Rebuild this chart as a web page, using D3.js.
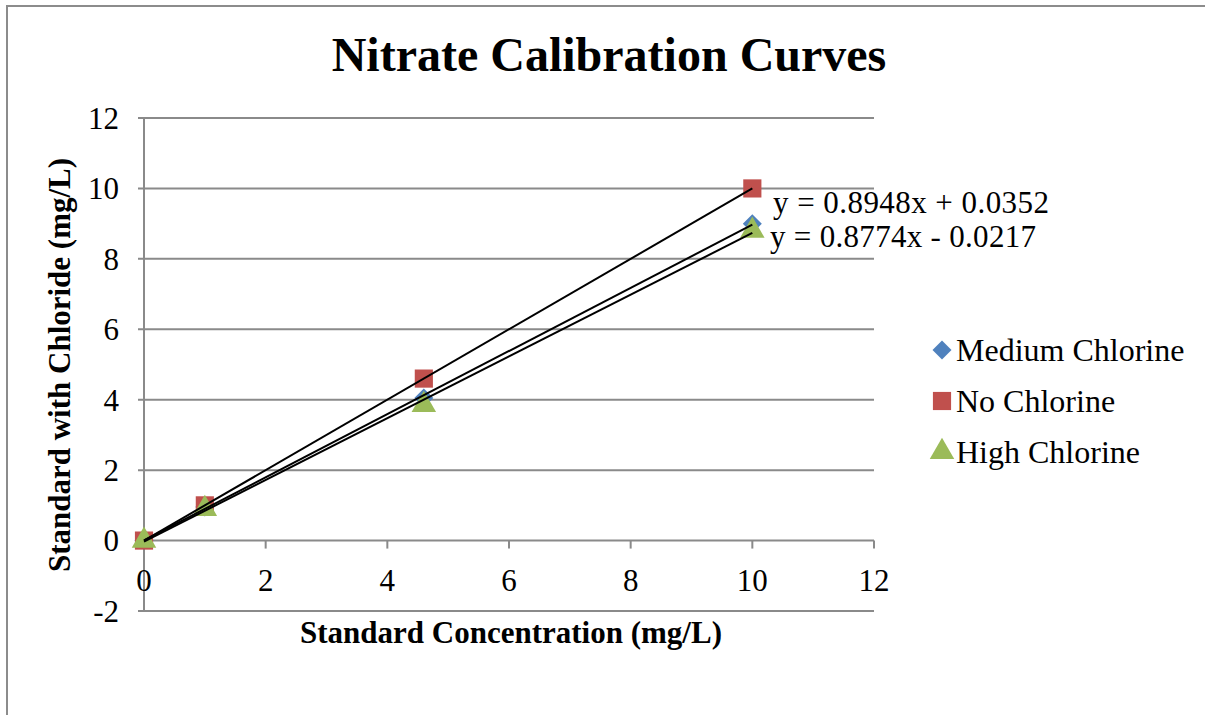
<!DOCTYPE html>
<html><head><meta charset="utf-8">
<script src="https://cdn.jsdelivr.net/npm/d3@7"></script>
<style>body{margin:0;background:#fff}svg{display:block}</style>
</head><body>
<script>
const xValues = [0, 1, 4.6, 10];
const mediumChlorine = [0, 0.95, 4.05, 9.0];
const noChlorine = [0, 1, 4.6, 10];
const highChlorine = [0, 0.9, 3.85, 8.8];
const seriesNames = ["Medium Chlorine", "No Chlorine", "High Chlorine"];
const xTicks = [0, 2, 4, 6, 8, 10, 12];
const yTicks = [-2, 0, 2, 4, 6, 8, 10, 12];
const equations = ["y = 0.8948x + 0.0352", "y = 0.8774x - 0.0217"];

const FONT = "Liberation Serif, Times New Roman, serif";
const W = 1205, H = 715;
const svg = d3.select("body").append("svg").attr("width", W).attr("height", H)
  .attr("font-family", FONT);
// outer frame
svg.append("path").attr("d", `M7,${H+5} V6 H${W+5}`).attr("fill","none").attr("stroke","#8c8c8c").attr("stroke-width",2);

const x = d3.scaleLinear().domain([0,12]).range([144,874]);
const y = d3.scaleLinear().domain([-2,12]).range([611,118]);

// gridlines
svg.append("g").selectAll("line").data(yTicks).join("line")
  .attr("x1", 138).attr("x2", 874).attr("y1", d=>y(d)).attr("y2", d=>y(d))
  .attr("stroke","#8a8a8a").attr("stroke-width",2);
// y axis line
svg.append("line").attr("x1",x(0)).attr("x2",x(0)).attr("y1",y(12)).attr("y2",y(-2)).attr("stroke","#8a8a8a").attr("stroke-width",2);
// x tick marks
svg.append("g").selectAll("line").data(xTicks).join("line")
  .attr("x1", d=>x(d)).attr("x2", d=>x(d)).attr("y1", y(0)).attr("y2", y(0)+8)
  .attr("stroke","#8a8a8a").attr("stroke-width",2);
// y tick labels
svg.append("g").selectAll("text").data(yTicks).join("text")
  .attr("x",119).attr("y",d=>y(d)).attr("dy","0.35em").attr("text-anchor","end")
  .attr("font-size",31).text(d=>d);
// x tick labels
svg.append("g").selectAll("text").data(xTicks).join("text")
  .attr("x",d=>x(d)).attr("y",y(0)+40).attr("dy","0.35em").attr("text-anchor","middle")
  .attr("font-size",31).text(d=>d);

// title & axis titles
svg.append("text").attr("x",609).attr("y",71).attr("text-anchor","middle").attr("font-size",48).attr("font-weight","bold").text("Nitrate Calibration Curves");
svg.append("text").attr("x",511).attr("y",643).attr("text-anchor","middle").attr("font-size",31).attr("font-weight","bold").text("Standard Concentration (mg/L)");
svg.append("text").attr("transform","translate(70,365) rotate(-90)").attr("text-anchor","middle").attr("font-size",31).attr("font-weight","bold").text("Standard with Chloride (mg/L)");

const colors = ["#4F81BD","#C0504D","#9BBB59"];
const data = [mediumChlorine, noChlorine, highChlorine];
const symTypes = [d3.symbolSquare, d3.symbolSquare, d3.symbolTriangle];
const symSizes = [180, 330, 260];
const rot = [45, 0, 0];

data.forEach((vals,i)=>{
  svg.append("g").selectAll("path").data(vals).join("path")
    .attr("transform",(d,j)=>`translate(${x(xValues[j])},${y(d)}) rotate(${rot[i]})`)
    .attr("d", d3.symbol().type(symTypes[i]).size(symSizes[i])).attr("fill", colors[i]);
});

// trendlines (least-squares)
function fit(xs, ys){
  const n=xs.length, mx=d3.mean(xs), my=d3.mean(ys);
  let sxy=0,sxx=0; for(let k=0;k<n;k++){sxy+=(xs[k]-mx)*(ys[k]-my);sxx+=(xs[k]-mx)**2;}
  const m=sxy/sxx; return [m, my-m*mx];
}
data.forEach(vals=>{
  const [m,b]=fit(xValues, vals);
  svg.append("line").attr("x1",x(0)).attr("y1",y(b)).attr("x2",x(10)).attr("y2",y(m*10+b))
    .attr("stroke","#000").attr("stroke-width",2);
});

// equations
svg.append("text").attr("x",773).attr("y",213).attr("font-size",31).attr("textLength",276).text(equations[0]);
svg.append("text").attr("x",770).attr("y",247).attr("font-size",31).attr("textLength",266).text(equations[1]);

// legend
const lg = svg.append("g");
seriesNames.forEach((name,i)=>{
  const cy = 350 + i*51;
  lg.append("path").attr("transform",`translate(942,${cy}) rotate(${rot[i]})`).attr("d",
    d3.symbol().type(symTypes[i]).size(symSizes[i])).attr("fill",colors[i]);
  lg.append("text").attr("x",956).attr("y",cy).attr("dy","0.35em").attr("font-size",32).text(name);
});
</script>
</body></html>
